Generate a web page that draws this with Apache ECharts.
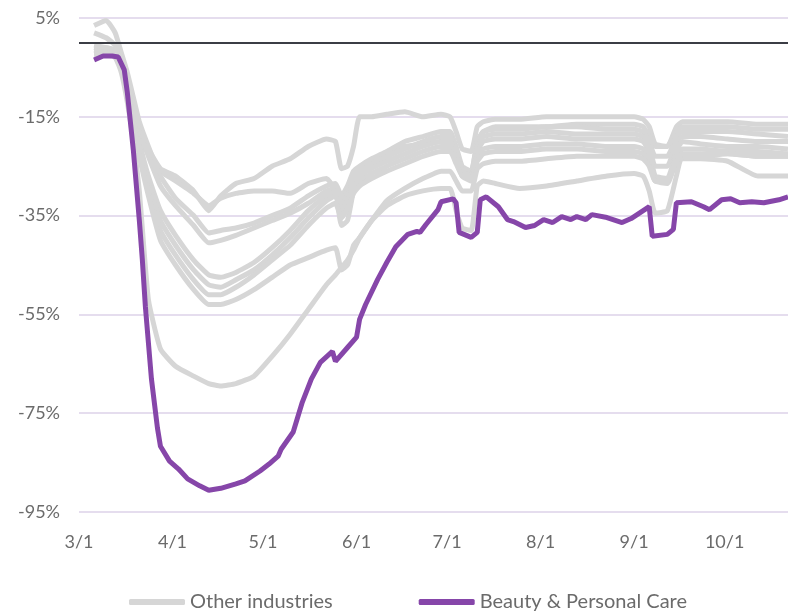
<!DOCTYPE html>
<html>
<head>
<meta charset="utf-8">
<script src="https://cdn.jsdelivr.net/npm/echarts@6/dist/echarts.min.js"></script>
<style>
  html, body { margin: 0; padding: 0; background: #fff; }
  #chart { width: 788px; height: 612px; }
</style>
</head>
<body>
<div id="chart"></div>
<script>
// days counted from 3/1, last day shown is 10/22
const startDate = new Date(2020, 2, 1)
const dayCount = 236
const monthTicks = ['3/1', '4/1', '5/1', '6/1', '7/1', '8/1', '9/1', '10/1']

// Beauty & Personal Care
const beautyDays = [5, 8, 11, 13, 15, 16, 18, 20, 21, 22, 24, 26, 27, 30, 33, 36, 40, 43, 47, 52, 55, 60, 63, 66, 67, 71, 74, 77, 80, 84, 85, 89, 92, 93, 95, 99, 102, 105, 109, 112, 113, 115, 119, 120, 124, 125, 126, 130, 132, 133, 135, 139, 142, 144, 148, 151, 154, 157, 160, 163, 165, 168, 170, 175, 180, 183, 185, 189, 190, 195, 197, 198, 203, 207, 209, 213, 216, 219, 223, 227, 232, 235]
const beauty = [-3.5, -2.7, -2.7, -2.9, -5.5, -10, -21.7, -36, -44, -53.4, -68, -78, -81.7, -84.7, -86.3, -88.3, -89.7, -90.6, -90.2, -89.3, -88.7, -86.7, -85.3, -83.7, -82.3, -78.8, -72.8, -68.1, -64.7, -62.5, -64.5, -61.7, -59.6, -56, -53, -47.9, -44.5, -41.3, -38.8, -38.2, -38.4, -36.8, -33.8, -32.2, -31.6, -32.4, -38.4, -39.4, -38.4, -31.8, -31.2, -33.2, -35.8, -36.2, -37.4, -37, -35.8, -36.4, -35.2, -35.8, -35.2, -35.8, -34.8, -35.4, -36.4, -35.6, -34.8, -33.2, -39.2, -38.8, -37.8, -32.4, -32.2, -33.2, -33.8, -31.8, -31.6, -32.4, -32.2, -32.4, -31.8, -31.2]

// Other industries, all sampled on the same days
const otherDays = [5, 9, 12, 14, 16, 18, 20, 23, 27, 32, 38, 43, 47, 52, 58, 64, 70, 76, 82, 85, 87, 89, 91, 93, 97, 102, 108, 114, 120, 123, 125, 127, 130, 132, 134, 138, 146, 155, 165, 175, 184, 187, 189, 191, 195, 198, 200, 206, 215, 225, 235]
const other1 = [-1, -1, -1.5, -3, -7, -12, -17, -21.5, -25.5, -27, -30, -34, -31, -28.5, -27.5, -25, -23.5, -21, -19.5, -20, -25.5, -25, -21, -15, -15, -14.5, -14, -15, -14.5, -15, -18, -21.5, -22, -17, -16, -15.5, -15.5, -15, -15, -15, -15, -15.5, -17, -20.5, -21, -17, -16, -16, -16, -16.5, -16.5]
const other2 = [-2, -2, -2.5, -4, -8, -13, -18, -22.5, -26, -28, -30.5, -33, -31.5, -30.5, -30, -30, -30.5, -28.5, -27.5, -30, -37, -36, -30, -27, -25, -23, -21, -20.5, -20, -20, -22, -25.5, -26, -20, -18, -17, -17, -17, -16.5, -16.5, -16.5, -17, -19, -21, -21, -18, -17, -17, -17, -17.5, -17.5]
const other3 = [3.5, 4.5, 2, -2, -6, -11, -16, -21, -27, -31.5, -35, -38.5, -38, -37.5, -36.5, -35, -33.5, -31, -29, -28.5, -31, -29, -26, -25, -23.5, -22, -20, -19, -18, -18, -21, -25, -26, -20, -18, -17.5, -17.5, -17, -17, -17.5, -17.5, -18, -20, -23, -23, -19, -18, -18, -18, -18.5, -19]
const other4 = [2, 1, -0.5, -3, -7.5, -12.5, -18, -23, -29, -33, -37, -40.5, -40, -39, -37.5, -36, -34.5, -32.5, -30, -29.5, -32, -30, -27, -26, -24.5, -23, -21.5, -20, -19, -19, -22, -26, -27, -21, -19, -18.5, -18.5, -18, -18.5, -18.5, -18.5, -19, -21, -25, -25, -20, -19, -19, -19.5, -20, -20]
const other5 = [-1, -1.5, -2, -4, -8.5, -14, -20, -27, -34, -39, -44, -47, -47.5, -46.5, -44.5, -41.5, -38, -34, -31, -30, -33, -31, -28, -27, -25.5, -24, -22.5, -21, -20, -20, -23, -27, -28, -22, -20, -19.5, -19.5, -19, -19.5, -19.5, -19.5, -20, -22, -27, -27.5, -22, -20, -20.5, -21, -21, -21.5]
const other6 = [-2, -2, -2.5, -4.5, -9, -15, -21, -28.5, -36, -41, -46, -49, -49.5, -48, -46, -43, -39.5, -35.5, -32, -31, -34, -32, -29, -28, -26.5, -25, -23.5, -22, -21, -21, -23.5, -26, -27, -23, -21.5, -21, -21, -20.5, -20.5, -21, -21, -21.5, -23, -28, -28, -23, -21.5, -21.5, -22, -22, -22.5]
const other7 = [-0.5, -1, -1.5, -4, -9, -15.5, -22, -30, -38, -43, -48, -51, -51, -49.5, -47, -44, -41, -37, -33.5, -32.5, -35.5, -33.5, -30.5, -29, -27.5, -26, -24.5, -23, -22, -22, -24.5, -27, -27.5, -24, -22.5, -22, -22, -21.5, -21.5, -22, -22, -22.5, -24, -28, -28.5, -24, -23.5, -23.5, -24, -27, -27]
const other8 = [-1.5, -2, -2.5, -5, -10, -16.5, -23, -31, -40, -45, -50, -53, -53, -52, -50, -47.5, -45, -43.5, -42, -41.5, -46, -45, -41, -39.5, -36, -33, -31, -30, -29.5, -29.5, -34, -37.5, -38, -29, -28, -28.5, -29.5, -29, -28, -27, -26.5, -27, -30, -34.5, -34, -27, -23, -23, -22.5, -23, -23]
const other9 = [-2.5, -2.5, -3, -6, -12, -20, -30, -52, -62, -65.5, -67.5, -69, -69.5, -69, -67.5, -63.5, -59, -54, -49, -47, -45.5, -44, -42, -39.5, -36, -32, -29.5, -27.5, -26, -26, -28, -30, -30, -25.5, -24.5, -24, -24, -23.5, -23, -23, -23, -23.5, -25, -28, -28, -24, -22.5, -22.5, -22.5, -23, -23]
const others = [other1, other2, other3, other4, other5, other6, other7, other8, other9]

const greyColor = '#d6d6d6'
const purpleColor = '#8646a9'
const fontFamily = 'Lato'

// 日期类目
let categories = []
for (let i = 0; i < dayCount; i++) {
    let d = new Date(startDate.getTime())
    d.setDate(d.getDate() + i)
    categories.push((d.getMonth() + 1) + '/' + d.getDate())
}

function pairs(days, values) {
    return days.map((d, i) => [d, values[i]])
}

let series = []
others.forEach((vals, i) => {
    let s = {
        name: 'Other industries',
        type: 'line',
        showSymbol: false,
        smooth: 0.15,
        data: pairs(otherDays, vals),
        lineStyle: { color: greyColor, width: 5 },
        itemStyle: { color: greyColor },
        z: 2
    }
    if (i === 0) {
        // 0% 基准线
        s.markLine = {
            silent: true,
            symbol: 'none',
            label: { show: false },
            lineStyle: { color: '#3b3d45', width: 2, type: 'solid' },
            data: [{ yAxis: 0 }]
        }
    }
    series.push(s)
})
series.push({
    name: 'Beauty & Personal Care',
    type: 'line',
    showSymbol: false,
    data: pairs(beautyDays, beauty),
    lineStyle: { color: purpleColor, width: 5 },
    itemStyle: { color: purpleColor },
    z: 3
})

const chart = echarts.init(document.getElementById('chart'))
chart.setOption({
    animation: false,
    textStyle: { fontFamily: fontFamily },
    grid: { left: 79, right: 0, top: 18, bottom: 100 },
    legend: {
        left: 124,
        bottom: -5,
        itemWidth: 56,
        itemHeight: 6,
        itemGap: 86,
        icon: 'roundRect',
        textStyle: { color: '#6b6b6b', fontSize: 20, fontFamily: fontFamily },
        data: ['Other industries', 'Beauty & Personal Care']
    },
    xAxis: {
        type: 'category',
        boundaryGap: false,
        data: categories,
        axisLine: { show: false },
        axisTick: { show: false },
        axisLabel: {
            interval: (idx, val) => monthTicks.includes(val),
            color: '#6b6b6b',
            fontSize: 18,
            margin: 21,
            fontFamily: fontFamily
        },
        splitLine: { show: false }
    },
    yAxis: {
        type: 'value',
        min: -95,
        max: 5,
        interval: 20,
        axisLine: { show: false },
        axisTick: { show: false },
        axisLabel: {
            formatter: v => v + '%',
            color: '#6b6b6b',
            fontSize: 18,
            margin: 19,
            fontFamily: fontFamily
        },
        splitLine: { lineStyle: { color: '#e5ddee', width: 2 } }
    },
    series: series
})
</script>
</body>
</html>
